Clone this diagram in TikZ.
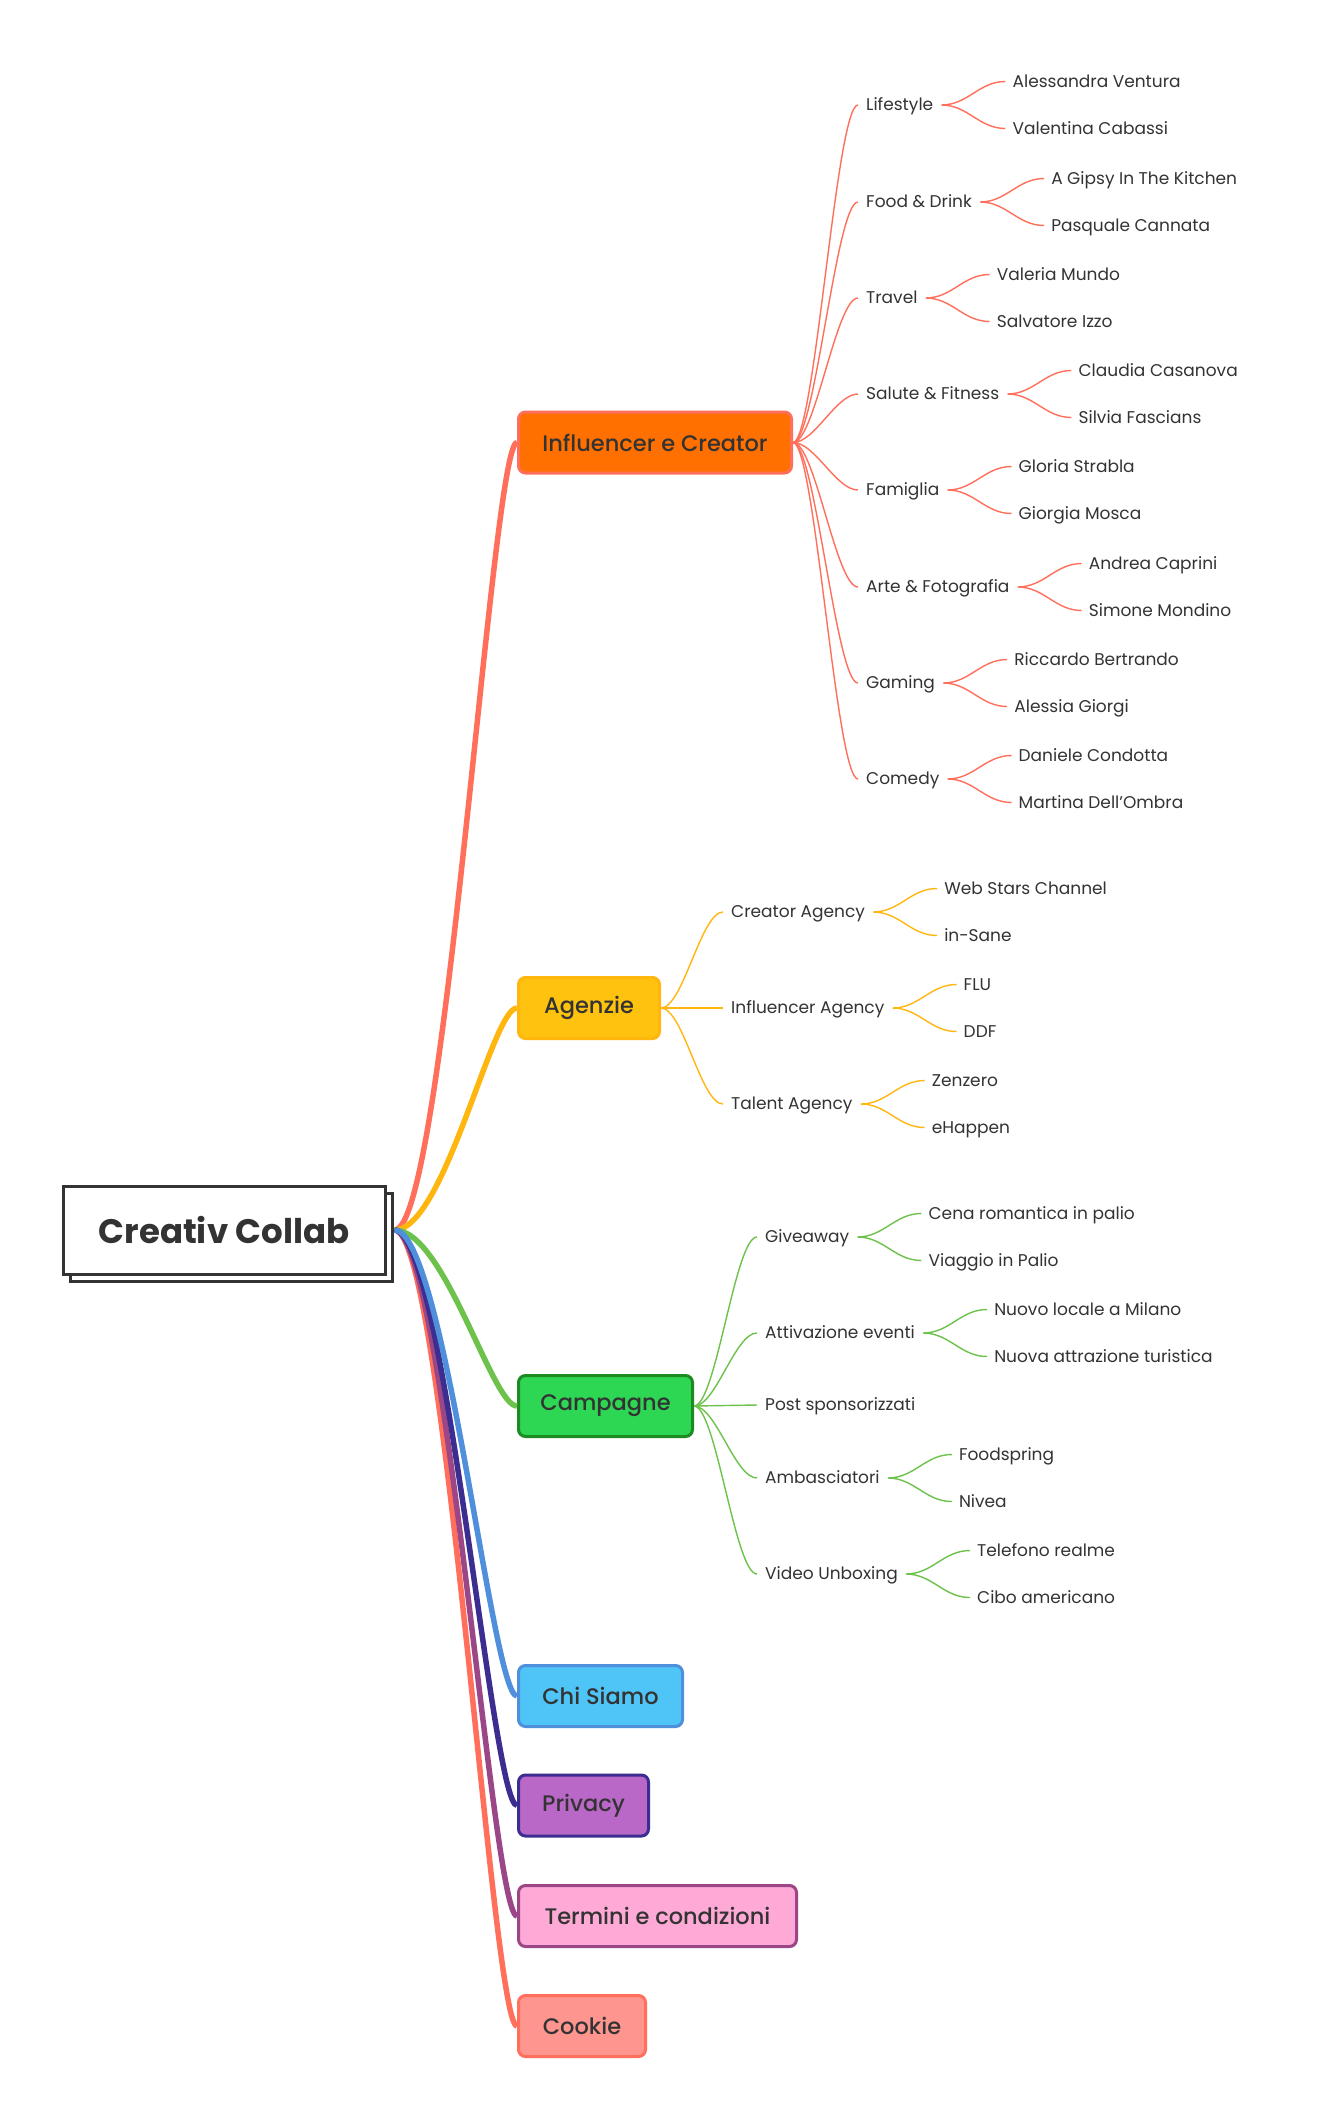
\documentclass[tikz,border=0pt]{standalone}
\usepackage{fontspec}
\setmainfont{Poppins}
\newfontfamily\medfont{Poppins Medium}
\usepackage{tikz}
\usetikzlibrary{calc}
\usetikzlibrary{shadows}
\definecolor{ink}{HTML}{333333}
\definecolor{coral}{HTML}{FF6F5B}
\definecolor{orng}{HTML}{FF7000}
\definecolor{amber}{HTML}{FFB70F}
\definecolor{gold}{HTML}{FFC20E}
\definecolor{leafgreen}{HTML}{6CC24A}
\definecolor{brightgreen}{HTML}{2DD653}
\definecolor{darkgreen}{HTML}{1D8A22}
\definecolor{skyblue}{HTML}{4FC4F7}
\definecolor{midblue}{HTML}{4F8FDC}
\definecolor{violet}{HTML}{B968C7}
\definecolor{indigo}{HTML}{3C2D90}
\definecolor{pinkish}{HTML}{FFA9D6}
\definecolor{plum}{HTML}{9B4787}
\definecolor{salmon}{HTML}{FF958F}
\tikzstyle{every node}=[font=\fontsize{17}{20}\selectfont, text=ink]
\tikzstyle{topic}=[draw, rounded corners=7pt, line width=3pt, minimum height=61pt, inner xsep=0pt, anchor=west, font=\medfont\fontsize{22.5}{26}\selectfont]
\tikzstyle{sub}=[inner xsep=8pt, inner ysep=0pt, text height=13pt, text depth=2pt, anchor=west]
\tikzstyle{leaf}=[sub, inner xsep=7pt]
\tikzstyle{trunk}=[line width=5.5pt]
\tikzstyle{twig}=[line width=1.4pt]

\begin{document}
\begin{tikzpicture}[x=1pt, y=-1pt]
                \useasboundingbox[fill=white] (0, 0) rectangle (1320, 2118);

                % root
                \node[draw=ink, fill=white, line width=3pt, minimum width=322pt, minimum height=88pt, copy shadow={shadow xshift=7pt, shadow yshift=-7pt}, font=\bfseries\fontsize{34}{36}\selectfont] (root) at (224, 1230) {Creativ Collab};
                \coordinate (hub) at ($(root.east)+(8, 0)$);

                % main topics
                \node[topic, draw=coral, fill=orng, minimum width=273pt] (infl) at (517, 442.5) {Influencer e Creator};
                \node[topic, draw=amber, fill=gold, minimum width=141pt] (agen) at (517, 1008) {Agenzie};
                \node[topic, draw=darkgreen, fill=brightgreen, minimum width=174pt] (camp) at (517, 1406) {Campagne};
                \node[topic, draw=midblue, fill=skyblue, minimum width=164pt] (chi) at (517, 1696) {Chi Siamo};
                \node[topic, draw=indigo, fill=violet, minimum width=130pt] (priv) at (517, 1805.5) {Privacy};
                \node[topic, draw=plum, fill=pinkish, minimum width=278pt] (term) at (517, 1916) {Termini e condizioni};
                \node[topic, draw=coral, fill=salmon, minimum width=127pt] (cook) at (517, 2026) {Cookie};

                \draw[trunk, coral] (hub) .. controls +(50, 0) and +(-25, 0) .. (infl.west);
                \draw[trunk, amber] (hub) .. controls +(50, 0) and +(-25, 0) .. (agen.west);
                \draw[trunk, leafgreen] (hub) .. controls +(50, 0) and +(-25, 0) .. (camp.west);
                \draw[trunk, coral] (hub) .. controls +(50, 0) and +(-25, 0) .. (cook.west);
                \draw[trunk, plum] (hub) .. controls +(50, 0) and +(-25, 0) .. (term.west);
                \draw[trunk, indigo] (hub) .. controls +(50, 0) and +(-25, 0) .. (priv.west);
                \draw[trunk, midblue] (hub) .. controls +(50, 0) and +(-25, 0) .. (chi.west);

                % Influencer e Creator
                \node[sub] (life) at (858, 105) {Lifestyle};
                \node[sub] (food) at (858, 202) {Food \& Drink};
                \node[sub] (trav) at (858, 298) {Travel};
                \node[sub] (salu) at (858, 394) {Salute \& Fitness};
                \node[sub] (fami) at (858, 490) {Famiglia};
                \node[sub] (arte) at (858, 587) {Arte \& Fotografia};
                \node[sub] (gami) at (858, 683) {Gaming};
                \node[sub] (come) at (858, 779) {Comedy};

                \node[leaf] (life1) at ($(life.east)+(64, -23.5)$) {Alessandra Ventura};
                \node[leaf] (life2) at ($(life.east)+(64, 23.5)$) {Valentina Cabassi};
                \node[leaf] (food1) at ($(food.east)+(64, -23.5)$) {A Gipsy In The Kitchen};
                \node[leaf] (food2) at ($(food.east)+(64, 23.5)$) {Pasquale Cannata};
                \node[leaf] (trav1) at ($(trav.east)+(64, -23.5)$) {Valeria Mundo};
                \node[leaf] (trav2) at ($(trav.east)+(64, 23.5)$) {Salvatore Izzo};
                \node[leaf] (salu1) at ($(salu.east)+(64, -23.5)$) {Claudia Casanova};
                \node[leaf] (salu2) at ($(salu.east)+(64, 23.5)$) {Silvia Fascians};
                \node[leaf] (fami1) at ($(fami.east)+(64, -23.5)$) {Gloria Strabla};
                \node[leaf] (fami2) at ($(fami.east)+(64, 23.5)$) {Giorgia Mosca};
                \node[leaf] (arte1) at ($(arte.east)+(64, -23.5)$) {Andrea Caprini};
                \node[leaf] (arte2) at ($(arte.east)+(64, 23.5)$) {Simone Mondino};
                \node[leaf] (gami1) at ($(gami.east)+(64, -23.5)$) {Riccardo Bertrando};
                \node[leaf] (gami2) at ($(gami.east)+(64, 23.5)$) {Alessia Giorgi};
                \node[leaf] (come1) at ($(come.east)+(64, -23.5)$) {Daniele Condotta};
                \node[leaf] (come2) at ($(come.east)+(64, 23.5)$) {Martina Dell'Ombra};

                \draw[twig, coral] (infl.east) .. controls +(22, 0) and +(-22, 0) .. (life.west);
                \draw[twig, coral] (infl.east) .. controls +(22, 0) and +(-22, 0) .. (food.west);
                \draw[twig, coral] (infl.east) .. controls +(22, 0) and +(-22, 0) .. (trav.west);
                \draw[twig, coral] (infl.east) .. controls +(22, 0) and +(-22, 0) .. (salu.west);
                \draw[twig, coral] (infl.east) .. controls +(22, 0) and +(-22, 0) .. (fami.west);
                \draw[twig, coral] (infl.east) .. controls +(22, 0) and +(-22, 0) .. (arte.west);
                \draw[twig, coral] (infl.east) .. controls +(22, 0) and +(-22, 0) .. (gami.west);
                \draw[twig, coral] (infl.east) .. controls +(22, 0) and +(-22, 0) .. (come.west);

                \draw[twig, coral] (life1.west) to[out=180, in=0] (life.east) to[out=0, in=180] (life2.west);
                \draw[twig, coral] (food1.west) to[out=180, in=0] (food.east) to[out=0, in=180] (food2.west);
                \draw[twig, coral] (trav1.west) to[out=180, in=0] (trav.east) to[out=0, in=180] (trav2.west);
                \draw[twig, coral] (salu1.west) to[out=180, in=0] (salu.east) to[out=0, in=180] (salu2.west);
                \draw[twig, coral] (fami1.west) to[out=180, in=0] (fami.east) to[out=0, in=180] (fami2.west);
                \draw[twig, coral] (arte1.west) to[out=180, in=0] (arte.east) to[out=0, in=180] (arte2.west);
                \draw[twig, coral] (gami1.west) to[out=180, in=0] (gami.east) to[out=0, in=180] (gami2.west);
                \draw[twig, coral] (come1.west) to[out=180, in=0] (come.east) to[out=0, in=180] (come2.west);

                % Agenzie
                \node[sub] (crea) at (723, 912) {Creator Agency};
                \node[sub] (inag) at (723, 1008) {Influencer Agency};
                \node[sub] (tale) at (723, 1104) {Talent Agency};

                \node[leaf] (crea1) at ($(crea.east)+(64, -23.5)$) {Web Stars Channel};
                \node[leaf] (crea2) at ($(crea.east)+(64, 23.5)$) {in-Sane};
                \node[leaf] (inag1) at ($(inag.east)+(64, -23.5)$) {FLU};
                \node[leaf] (inag2) at ($(inag.east)+(64, 23.5)$) {DDF};
                \node[leaf] (tale1) at ($(tale.east)+(64, -23.5)$) {Zenzero};
                \node[leaf] (tale2) at ($(tale.east)+(64, 23.5)$) {eHappen};

                \draw[twig, amber] (agen.east) .. controls +(22, 0) and +(-22, 0) .. (crea.west);
                \draw[twig, amber] (agen.east) -- (inag.west);
                \draw[twig, amber] (agen.east) .. controls +(22, 0) and +(-22, 0) .. (tale.west);

                \draw[twig, amber] (crea1.west) to[out=180, in=0] (crea.east) to[out=0, in=180] (crea2.west);
                \draw[twig, amber] (inag1.west) to[out=180, in=0] (inag.east) to[out=0, in=180] (inag2.west);
                \draw[twig, amber] (tale1.west) to[out=180, in=0] (tale.east) to[out=0, in=180] (tale2.west);

                % Campagne
                \node[sub] (give) at (757, 1237) {Giveaway};
                \node[sub] (atti) at (757, 1333) {Attivazione eventi};
                \node[sub] (post) at (757, 1405) {Post sponsorizzati};
                \node[sub] (amba) at (757, 1478) {Ambasciatori};
                \node[sub] (vide) at (757, 1574) {Video Unboxing};

                \node[leaf] (give1) at ($(give.east)+(64, -23.5)$) {Cena romantica in palio};
                \node[leaf] (give2) at ($(give.east)+(64, 23.5)$) {Viaggio in Palio};
                \node[leaf] (atti1) at ($(atti.east)+(64, -23.5)$) {Nuovo locale a Milano};
                \node[leaf] (atti2) at ($(atti.east)+(64, 23.5)$) {Nuova attrazione turistica};
                \node[leaf] (amba1) at ($(amba.east)+(64, -23.5)$) {Foodspring};
                \node[leaf] (amba2) at ($(amba.east)+(64, 23.5)$) {Nivea};
                \node[leaf] (vide1) at ($(vide.east)+(64, -23.5)$) {Telefono realme};
                \node[leaf] (vide2) at ($(vide.east)+(64, 23.5)$) {Cibo americano};

                \draw[twig, leafgreen] (camp.east) .. controls +(22, 0) and +(-22, 0) .. (give.west);
                \draw[twig, leafgreen] (camp.east) .. controls +(22, 0) and +(-22, 0) .. (atti.west);
                \draw[twig, leafgreen] (camp.east) -- (post.west);
                \draw[twig, leafgreen] (camp.east) .. controls +(22, 0) and +(-22, 0) .. (amba.west);
                \draw[twig, leafgreen] (camp.east) .. controls +(22, 0) and +(-22, 0) .. (vide.west);

                \draw[twig, leafgreen] (give1.west) to[out=180, in=0] (give.east) to[out=0, in=180] (give2.west);
                \draw[twig, leafgreen] (atti1.west) to[out=180, in=0] (atti.east) to[out=0, in=180] (atti2.west);
                \draw[twig, leafgreen] (amba1.west) to[out=180, in=0] (amba.east) to[out=0, in=180] (amba2.west);
                \draw[twig, leafgreen] (vide1.west) to[out=180, in=0] (vide.east) to[out=0, in=180] (vide2.west);
\end{tikzpicture}
\end{document}
